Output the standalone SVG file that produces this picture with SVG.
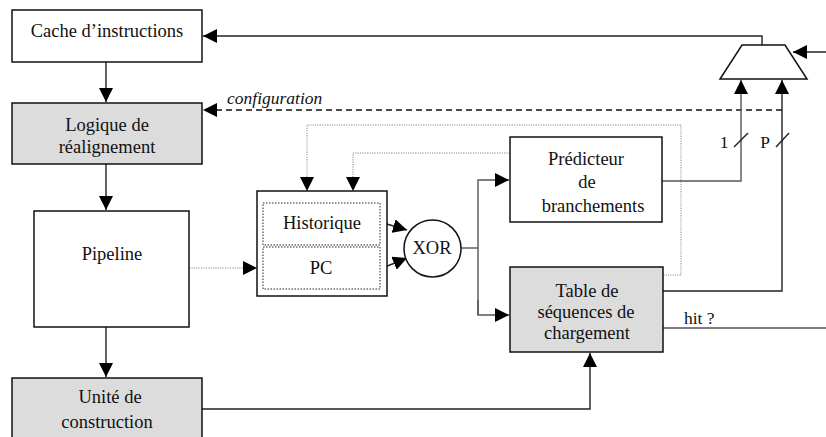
<svg xmlns="http://www.w3.org/2000/svg" width="826" height="437" viewBox="0 0 826 437" font-family="'Liberation Serif', 'DejaVu Serif', serif">
<defs>
<style>
.box{fill:#fff;stroke:#111;stroke-width:1.5}
.gray{fill:#dcdcdc;stroke:#111;stroke-width:1.5}
.inner{fill:none;stroke:#222;stroke-width:1;stroke-dasharray:1.5,1.5}
text{font-family:'Liberation Serif','DejaVu Serif',serif}
.t{font-size:18.5px;fill:#111;text-anchor:middle}
.ti{font-size:17.5px;font-style:italic;fill:#111}
.ts{font-size:17.5px;fill:#111}
.c{fill:none;stroke:#222;stroke-width:1.4}
.cg{fill:none;stroke:#555;stroke-width:1.4}
.dash{fill:none;stroke:#111;stroke-width:1.4;stroke-dasharray:6,4}
.dot{fill:none;stroke:#888;stroke-width:1;stroke-dasharray:1.2,1.2}
</style>
<marker id="a" markerUnits="userSpaceOnUse" markerWidth="15" markerHeight="14" refX="14" refY="7" orient="auto">
<path d="M0,0 L14,7 L0,14 z" fill="#000"/>
</marker>
</defs>

<g id="connectors">
<polyline class="c" points="762,45 762,36 203,36" marker-end="url(#a)"/>
<line class="c" x1="826" y1="52" x2="793" y2="52" marker-end="url(#a)"/>
<line class="c" x1="106" y1="62" x2="106" y2="102" marker-end="url(#a)"/>
<line class="dash" x1="782" y1="110" x2="203" y2="110" marker-end="url(#a)"/>
<line class="c" x1="106" y1="164" x2="106" y2="210" marker-end="url(#a)"/>
<line class="c" x1="106" y1="327" x2="106" y2="377" marker-end="url(#a)"/>
<line class="dot" x1="189" y1="268" x2="257" y2="268" marker-end="url(#a)"/>
<polyline class="dot" points="663,275 681,275 681,125 307,125 307,191" marker-end="url(#a)"/>
<polyline class="dot" points="510,153 353,153 353,191" marker-end="url(#a)"/>
<line class="c" x1="380" y1="222" x2="407" y2="230" marker-end="url(#a)"/>
<line class="c" x1="380" y1="269" x2="407" y2="258" marker-end="url(#a)"/>
<polyline class="cg" points="461,248 478,248"/>
<polyline class="cg" points="478,315 478,180 509,180" marker-end="url(#a)"/>
<polyline class="cg" points="478,300 478,315 509,315" marker-end="url(#a)"/>
<polyline class="cg" points="662,181 741,181 741,80" marker-end="url(#a)"/>
<polyline class="c" points="663,291 782,291 782,80" marker-end="url(#a)"/>
<line class="cg" x1="663" y1="328" x2="826" y2="328"/>
<polyline class="c" points="202,409 590,409 590,353" marker-end="url(#a)"/>
<line class="c" x1="734" y1="147" x2="748" y2="133"/>
<line class="c" x1="776" y1="147" x2="789" y2="133"/>
<text class="ti" x="227" y="104">configuration</text>
<text class="ts" x="724" y="148" text-anchor="middle">1</text>
<text class="ts" x="765" y="148" text-anchor="middle">P</text>
<text class="ts" x="684" y="324">hit ?</text>
</g>

<g id="mux">
<polygon class="box" points="742,45 785,45 807,79 720,79"/>
</g>

<g id="cache">
<rect class="box" x="12" y="10" width="190" height="52"/>
<text class="t" x="107" y="37">Cache d’instructions</text>
</g>

<g id="realignement">
<rect class="gray" x="12" y="103" width="190" height="61"/>
<text class="t" x="107" y="131">Logique de</text>
<text class="t" x="107" y="153">réalignement</text>
</g>

<g id="pipeline">
<rect class="box" x="34" y="211" width="155" height="116"/>
<text class="t" x="112" y="260">Pipeline</text>
</g>

<g id="historique-pc">
<rect class="box" x="257" y="191" width="130" height="105"/>
<rect class="inner" x="263" y="203" width="117" height="42"/>
<rect class="inner" x="263" y="247" width="117" height="42"/>
<text class="t" x="322" y="229">Historique</text>
<text class="t" x="321" y="274">PC</text>
</g>

<g id="xor">
<circle class="box" cx="432.5" cy="248.5" r="28.5"/>
<text class="t" x="432" y="254">XOR</text>
</g>

<g id="predicteur">
<rect class="box" x="510" y="137" width="152" height="85"/>
<text class="t" x="586" y="165">Prédicteur</text>
<text class="t" x="587" y="188">de</text>
<text class="t" x="593" y="212">branchements</text>
</g>

<g id="table">
<rect class="gray" x="510" y="267" width="153" height="85"/>
<text class="t" x="587" y="297">Table de</text>
<text class="t" x="586" y="318">séquences de</text>
<text class="t" x="587" y="339">chargement</text>
</g>

<g id="unite">
<rect class="gray" x="12" y="378" width="190" height="70"/>
<text class="t" x="110" y="403">Unité de</text>
<text class="t" x="107" y="428">construction</text>
</g>
</svg>
